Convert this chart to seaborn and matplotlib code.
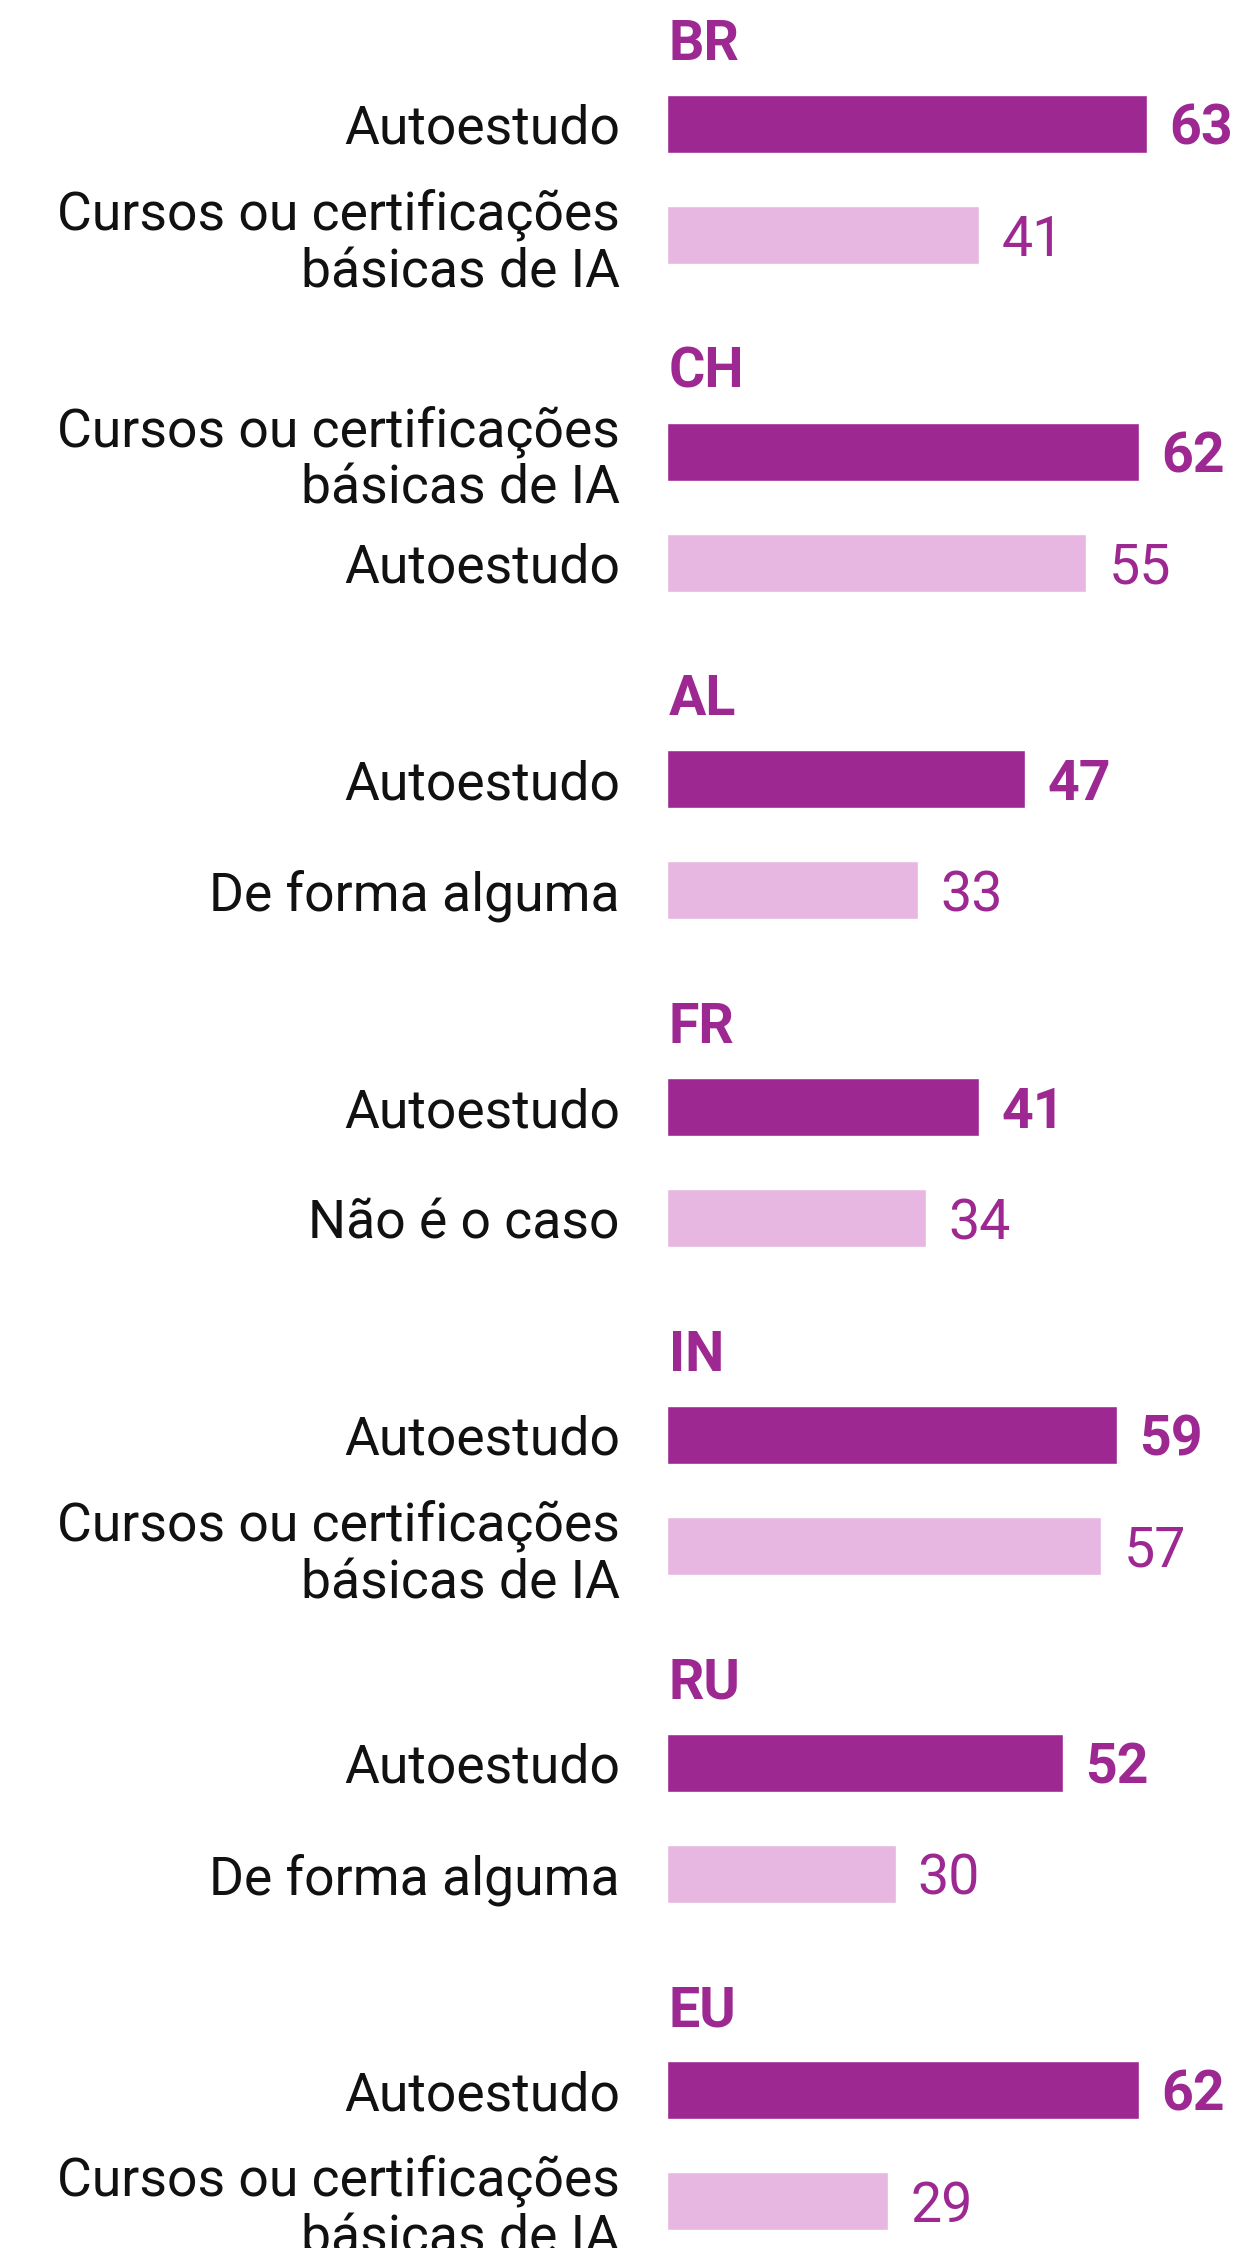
import matplotlib
matplotlib.use("Agg")
import matplotlib.pyplot as plt
import pandas as pd
import seaborn as sns

# dados
countries = ["BR", "CH", "AL", "FR", "IN", "RU", "EU"]
first_answers = ["Autoestudo", "Cursos ou certificações\nbásicas de IA", "Autoestudo",
                 "Autoestudo", "Autoestudo", "Autoestudo", "Autoestudo"]
first_values = [63, 62, 47, 41, 59, 52, 62]
second_answers = ["Cursos ou certificações\nbásicas de IA", "Autoestudo", "De forma alguma",
                  "Não é o caso", "Cursos ou certificações\nbásicas de IA", "De forma alguma",
                  "Cursos ou certificações\nbásicas de IA"]
second_values = [41, 55, 33, 34, 57, 30, 29]

DARK = "#9d2892"
LIGHT = "#e7b7e1"
FONT = ["Roboto", "DejaVu Sans"]

# layout (pixels da figura)
W, H = 1240, 2248
TOP = 124
GROUP_STEP = 327.7
PAIR_STEP = 111
BAR_H = 58
X0 = 667
PX_PER_UNIT = 7.62

rows = []
for i, c in enumerate(countries):
    rows.append({"country": c, "answer": first_answers[i], "value": first_values[i],
                 "rank": "first", "ypos": TOP + i * GROUP_STEP})
    rows.append({"country": c, "answer": second_answers[i], "value": second_values[i],
                 "rank": "second", "ypos": TOP + i * GROUP_STEP + PAIR_STEP})
df = pd.DataFrame(rows)

sns.set_theme(style="white")
plt.rcParams["font.family"] = FONT

fig = plt.figure(figsize=(W / 100, H / 100), dpi=100)
ax = fig.add_axes([X0 / W, 0, (W - X0) / W, 1])

sns.barplot(
    data=df, x="value", y="ypos", hue="rank", orient="h", native_scale=True,
    palette={"first": DARK, "second": LIGHT}, dodge=False, width=BAR_H / PAIR_STEP,
    errorbar=None, legend=False, saturation=1, ax=ax,
)

ax.set_xlim(0, (W - X0) / PX_PER_UNIT)
ax.set_ylim(H, 0)
for s in ax.spines.values():
    s.set_visible(False)
ax.set_xticks([])
ax.set_xlabel("")
ax.set_ylabel("")
ax.set_yticks(df["ypos"], df["answer"])
ax.tick_params(axis="y", length=0, pad=34, labelsize=38.5, labelcolor="#111111")
for lab in ax.get_yticklabels():
    lab.set_linespacing(1.15)

# rótulos de valor e títulos dos países
for _, r in df.iterrows():
    bold = r["rank"] == "first"
    ax.annotate(str(r["value"]), (r["value"], r["ypos"]), xytext=(16, 0),
                textcoords="offset points", va="center_baseline", ha="left",
                fontsize=40, color=DARK, fontweight="bold" if bold else "normal")
for i, c in enumerate(countries):
    ax.text(0.2, TOP + i * GROUP_STEP - 64, c, ha="left", va="baseline",
            fontsize=40, color=DARK, fontweight="bold")

fig.savefig("out.png", dpi=100)
